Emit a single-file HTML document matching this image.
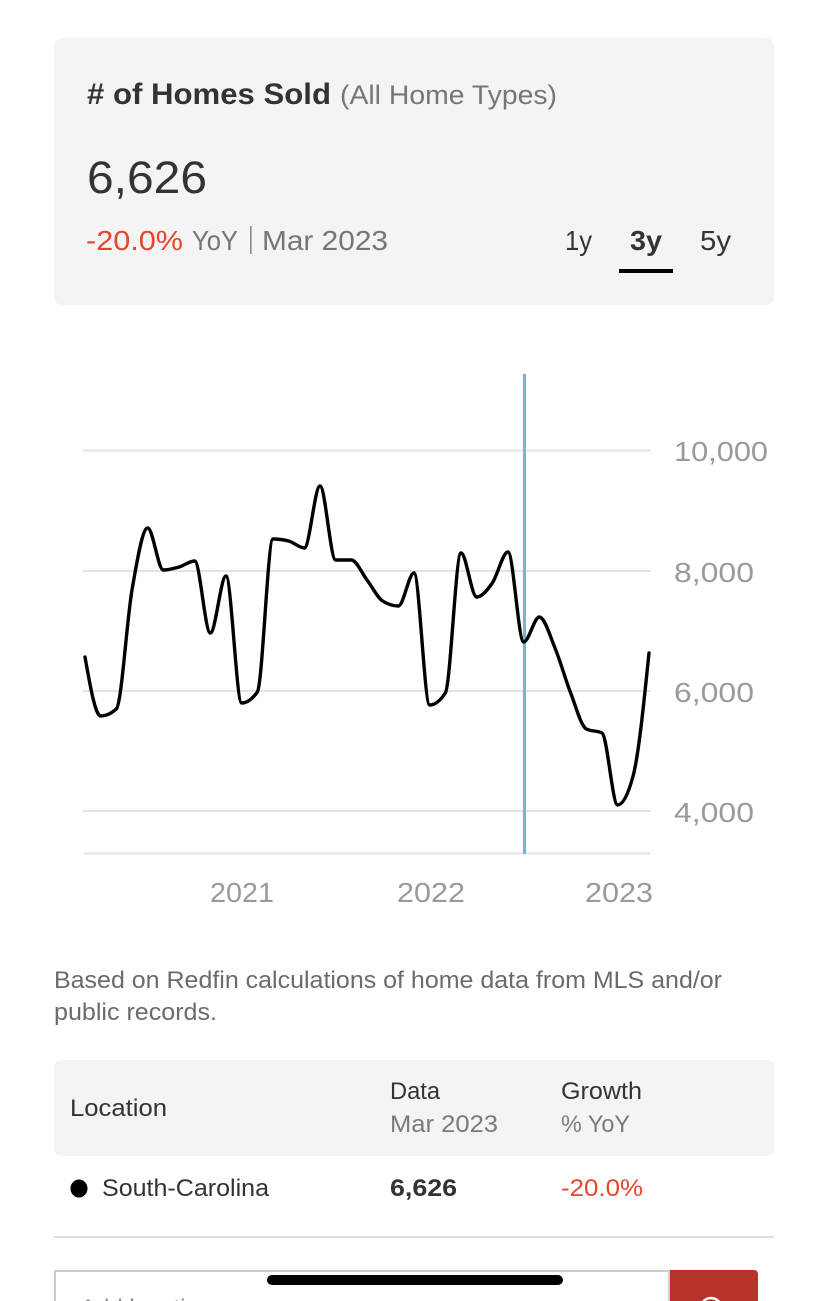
<!DOCTYPE html>
<html>
<head>
<meta charset="utf-8">
<style>
html,body{margin:0;padding:0;background:#fff;}
body{width:828px;height:1301px;overflow:hidden;}
svg{display:block;}
text{font-family:"Liberation Sans",sans-serif;}
</style>
</head>
<body>
<svg width="828" height="1301" viewBox="0 0 828 1301" xmlns="http://www.w3.org/2000/svg">
  <!-- Top card -->
  <rect x="54" y="38" width="720" height="267" rx="8" fill="#f4f4f4"/>
  <text x="87" y="104" font-size="30" font-weight="bold" fill="#333" textLength="244" lengthAdjust="spacingAndGlyphs"># of Homes Sold</text>
  <text x="340" y="104" font-size="27" fill="#767676" textLength="217" lengthAdjust="spacingAndGlyphs">(All Home Types)</text>
  <text x="87" y="193" font-size="45" fill="#333" textLength="120" lengthAdjust="spacingAndGlyphs">6,626</text>
  <text x="86" y="250" font-size="28" fill="#e8452c" textLength="97" lengthAdjust="spacingAndGlyphs">-20.0%</text>
  <text x="192" y="250" font-size="28" fill="#767676" textLength="46" lengthAdjust="spacingAndGlyphs">YoY</text>
  <rect x="250" y="226" width="1.6" height="28" fill="#8a8a8a"/>
  <text x="262" y="250" font-size="28" fill="#767676" textLength="126" lengthAdjust="spacingAndGlyphs">Mar 2023</text>
  <text x="565" y="250" font-size="28" fill="#333" textLength="27" lengthAdjust="spacingAndGlyphs">1y</text>
  <text x="630" y="250" font-size="28" font-weight="bold" fill="#333" textLength="32" lengthAdjust="spacingAndGlyphs">3y</text>
  <text x="700" y="250" font-size="28" fill="#333" textLength="31" lengthAdjust="spacingAndGlyphs">5y</text>
  <rect x="619" y="269" width="54" height="4" fill="#000"/>

  <!-- Chart grid -->
  <g stroke="#e3e3e3" stroke-width="2">
    <line x1="83" y1="450.5" x2="651" y2="450.5"/>
    <line x1="83" y1="571" x2="651" y2="571"/>
    <line x1="83" y1="691" x2="651" y2="691"/>
    <line x1="83" y1="811" x2="651" y2="811"/>
    <line x1="84" y1="853.5" x2="650" y2="853.5"/>
  </g>
  <g font-size="28" fill="#9a9a9a">
    <text x="674" y="461" textLength="94" lengthAdjust="spacingAndGlyphs">10,000</text>
    <text x="674" y="582" textLength="80" lengthAdjust="spacingAndGlyphs">8,000</text>
    <text x="674" y="702" textLength="80" lengthAdjust="spacingAndGlyphs">6,000</text>
    <text x="674" y="822" textLength="80" lengthAdjust="spacingAndGlyphs">4,000</text>
    <text x="210" y="902" textLength="64" lengthAdjust="spacingAndGlyphs">2021</text>
    <text x="397" y="902" textLength="68" lengthAdjust="spacingAndGlyphs">2022</text>
    <text x="585" y="902" textLength="68" lengthAdjust="spacingAndGlyphs">2023</text>
  </g>
  <!-- hover line -->
  <line x1="524.5" y1="374" x2="524.5" y2="854" stroke="#74b9c9" stroke-width="3"/>
  <!-- series -->
  <path id="series" fill="none" stroke="#000" stroke-width="3.4" stroke-linejoin="round" stroke-linecap="round"
    d="M85,657 L100.7,716 L116.3,709 L132,590 L147.7,528 L163.3,570 L179,567 L194.7,561 L210.3,633 L226,576 L241.7,703 L257.3,692 L273,539 L288.7,541 L304.3,548 L320,486 L335.7,560 L351.3,560 L367,580 L382.7,601 L398.3,606 L414,573 L429.7,705 L445.3,693 L461,553 L476.7,597 L492.3,583 L508,552 L523.7,642 L539.3,617 L555,648 L570.7,693 L586.3,729 L602,733 L617.7,805 L633.3,775 L649,653"/>

  <!-- footnote -->
  <g font-size="24" fill="#6b6b6b">
    <text x="54" y="988" textLength="668" lengthAdjust="spacingAndGlyphs">Based on Redfin calculations of home data from MLS and/or</text>
    <text x="54" y="1020" textLength="163" lengthAdjust="spacingAndGlyphs">public records.</text>
  </g>

  <!-- table header -->
  <rect x="54" y="1060" width="720" height="96" rx="7" fill="#f4f4f4"/>
  <g font-size="24">
    <text x="70" y="1116" fill="#333" textLength="97" lengthAdjust="spacingAndGlyphs">Location</text>
    <text x="390" y="1099" fill="#333" textLength="50" lengthAdjust="spacingAndGlyphs">Data</text>
    <text x="390" y="1132" fill="#7a7a7a" textLength="108" lengthAdjust="spacingAndGlyphs">Mar 2023</text>
    <text x="561" y="1099" fill="#333" textLength="81" lengthAdjust="spacingAndGlyphs">Growth</text>
    <text x="561" y="1132" fill="#7a7a7a" textLength="69" lengthAdjust="spacingAndGlyphs">% YoY</text>
  </g>
  <!-- row -->
  <ellipse cx="79" cy="1188.5" rx="8.5" ry="9" fill="#000"/>
  <g font-size="24">
    <text x="102" y="1196" fill="#333" textLength="167" lengthAdjust="spacingAndGlyphs">South-Carolina</text>
    <text x="390" y="1196" fill="#333" font-weight="bold" textLength="67" lengthAdjust="spacingAndGlyphs">6,626</text>
    <text x="561" y="1196" fill="#e8452c" textLength="82" lengthAdjust="spacingAndGlyphs">-20.0%</text>
  </g>
  <rect x="54" y="1236" width="720" height="2" fill="#dcdcdc"/>

  <!-- search input -->
  <rect x="55" y="1271" width="614" height="40" fill="#fff" stroke="#cccccc" stroke-width="2"/>
  <text x="80" y="1316" font-size="24" fill="#8a8a8a">Add location</text>
  <path d="M670,1270 H754 a4,4 0 0 1 4,4 V1301 H670 Z" fill="#b8322c"/>
  <circle cx="711" cy="1308" r="10" fill="none" stroke="#fff" stroke-width="2.5"/>
  <!-- home indicator -->
  <rect x="267" y="1275" width="296" height="10" rx="5" fill="#000"/>
</svg>
<script>
(function(){
  var ys=[657,716,709,590,528,570,567,561,633,576,703,692,539,541,548,486,560,560,580,601,606,573,705,693,553,597,583,552,642,617,648,693,729,733,805,775,653];
  var n=ys.length, xs=[];
  for(var i=0;i<n;i++) xs.push(85+(649-85)*i/(n-1));
  var m=[], d=[];
  for(i=0;i<n-1;i++) d.push((ys[i+1]-ys[i])/(xs[i+1]-xs[i]));
  function sign(v){return v<0?-1:1;}
  for(i=1;i<n-1;i++){
    var h0=xs[i]-xs[i-1], h1=xs[i+1]-xs[i], s0=d[i-1], s1=d[i];
    var p=(s0*h1+s1*h0)/(h0+h1);
    m[i]=(sign(s0)+sign(s1))*Math.min(Math.abs(s0),Math.abs(s1),0.5*Math.abs(p))||0;
  }
  m[0]=(3*d[0]-m[1])/2;
  m[n-1]=(3*d[n-2]-m[n-2])/2;
  var path="M"+xs[0].toFixed(2)+","+ys[0];
  for(i=0;i<n-1;i++){
    var dx=(xs[i+1]-xs[i])/3;
    path+=" C"+(xs[i]+dx).toFixed(2)+","+(ys[i]+dx*m[i]).toFixed(2)+" "+(xs[i+1]-dx).toFixed(2)+","+(ys[i+1]-dx*m[i+1]).toFixed(2)+" "+xs[i+1].toFixed(2)+","+ys[i+1];
  }
  document.getElementById("series").setAttribute("d",path);
})();
</script>
</body>
</html>
